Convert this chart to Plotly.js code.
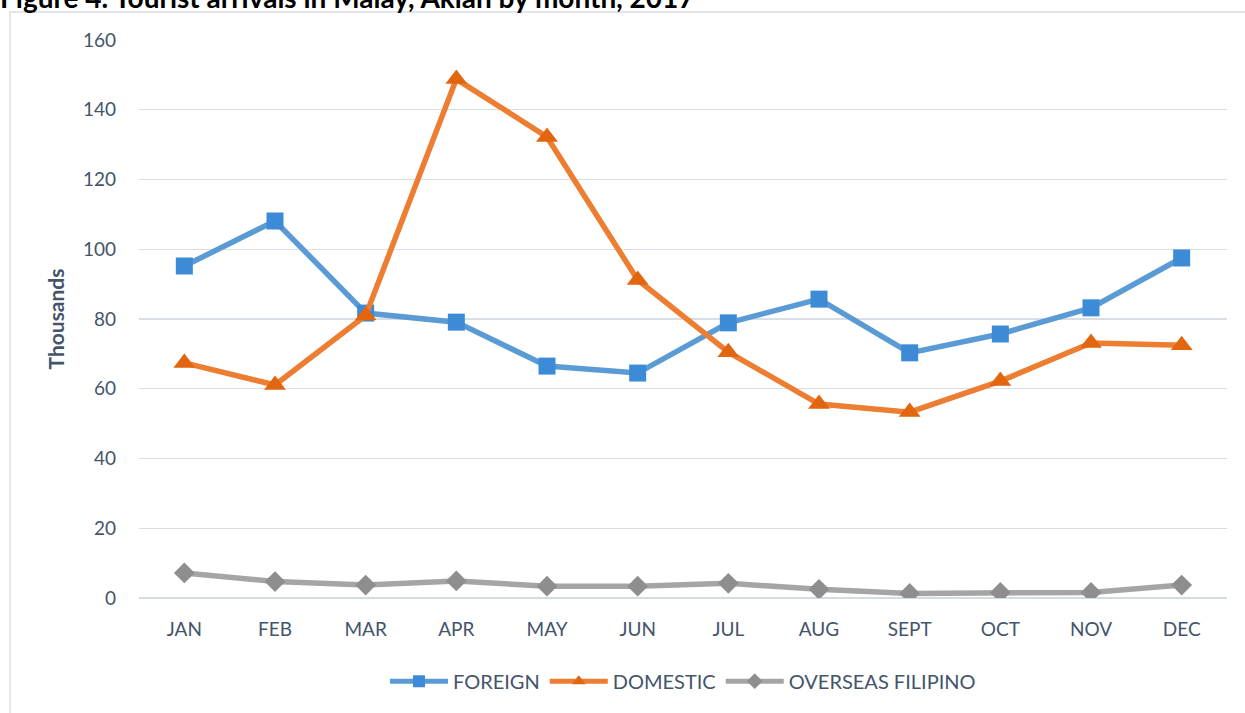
<!DOCTYPE html>
<html>
<head>
<meta charset="utf-8">
<script src="https://cdn.plot.ly/plotly-3.0.1.min.js"></script>
<style>html,body{margin:0;padding:0;background:#fff;}#chart{width:1245px;height:713px;}</style>
</head>
<body>
<div id="chart"></div>
<script>
const months = ["JAN","FEB","MAR","APR","MAY","JUN","JUL","AUG","SEPT","OCT","NOV","DEC"];
const foreign = [95.2, 108.1, 81.7, 79.1, 66.5, 64.5, 78.9, 85.7, 70.3, 75.7, 83.2, 97.5];
const domestic = [67.4, 61.1, 81.0, 148.8, 132.2, 91.2, 70.5, 55.6, 53.3, 62.2, 73.1, 72.5];
const overseas = [7.2, 4.7, 3.7, 4.9, 3.4, 3.4, 4.2, 2.5, 1.3, 1.6, 1.6, 3.7];
const seriesNames = ["FOREIGN", "DOMESTIC", "OVERSEAS FILIPINO"];
const titleText = "Figure 4. Tourist arrivals in Malay, Aklan by month, 2017";
const yTitle = "Thousands";
const yTicks = [0, 20, 40, 60, 80, 100, 120, 140, 160];

const textColor = "#44546A";
const fontFam = "Lato, 'Open Sans', sans-serif";

const traces = [
  {x: months, y: foreign, name: seriesNames[0], type: "scatter", mode: "lines+markers",
   line: {color: "#5B9BD5", width: 5.5},
   marker: {symbol: "square", size: 17, color: "#3D8AD6", line: {width: 0}}},
  {x: months, y: domestic, name: seriesNames[1], type: "scatter", mode: "lines+markers",
   line: {color: "#ED7D31", width: 5.5},
   marker: {symbol: "triangle-up", size: 19, color: "#E2650F", line: {width: 0}}},
  {x: months, y: overseas, name: seriesNames[2], type: "scatter", mode: "lines+markers",
   line: {color: "#A5A5A5", width: 5.5},
   marker: {symbol: "diamond", size: 16, color: "#8E8E8E", line: {width: 0}}}
];

const layout = {
  width: 1245, height: 713,
  margin: {l: 139, r: 18, t: 40, b: 115},
  paper_bgcolor: "#ffffff", plot_bgcolor: "#ffffff",
  font: {family: fontFam, color: textColor, size: 18},
  title: {text: "<b>" + titleText + "</b>", x: 0, xref: "container", xanchor: "left",
          y: 0.9885, yref: "container", yanchor: "bottom", pad: {t: 0, b: 0, l: 0, r: 0},
          font: {family: "Lato, 'Open Sans', sans-serif", size: 28, color: "#000000"}},
  xaxis: {type: "category", range: [-0.5, 11.5], showgrid: false, zeroline: false,
          showline: false, ticks: "", tickfont: {size: 19, color: textColor}, ticklabelstandoff: 18, fixedrange: true},
  yaxis: {range: [0, 160], tickvals: yTicks, showgrid: true, gridcolor: "#D9DEE6", gridwidth: 1.3,
          zeroline: true, zerolinecolor: "#D5DBE5", zerolinewidth: 1.5, showline: false, ticks: "",
          tickfont: {size: 19, color: textColor}, ticklabelstandoff: 22,
          title: {text: "<b>" + yTitle + "</b>", font: {size: 21, color: textColor}, standoff: 12}, fixedrange: true},
  legend: {orientation: "h", x: 0.5, xanchor: "center", y: -0.149, yanchor: "middle",
           font: {size: 20, color: textColor}, itemwidth: 58, itemsizing: "constant",
           traceorder: "normal", bgcolor: "rgba(0,0,0,0)"},
  shapes: [{type: "rect", xref: "paper", yref: "paper", x0: -0.1186, x1: 1.2, y0: -0.4, y1: 1.0502,
            line: {color: "#D9DEE6", width: 1.5}, fillcolor: "rgba(0,0,0,0)", layer: "below"}],
  showlegend: true
};

Plotly.newPlot("chart", traces, layout, {displayModeBar: false, staticPlot: true});
</script>
</body>
</html>
